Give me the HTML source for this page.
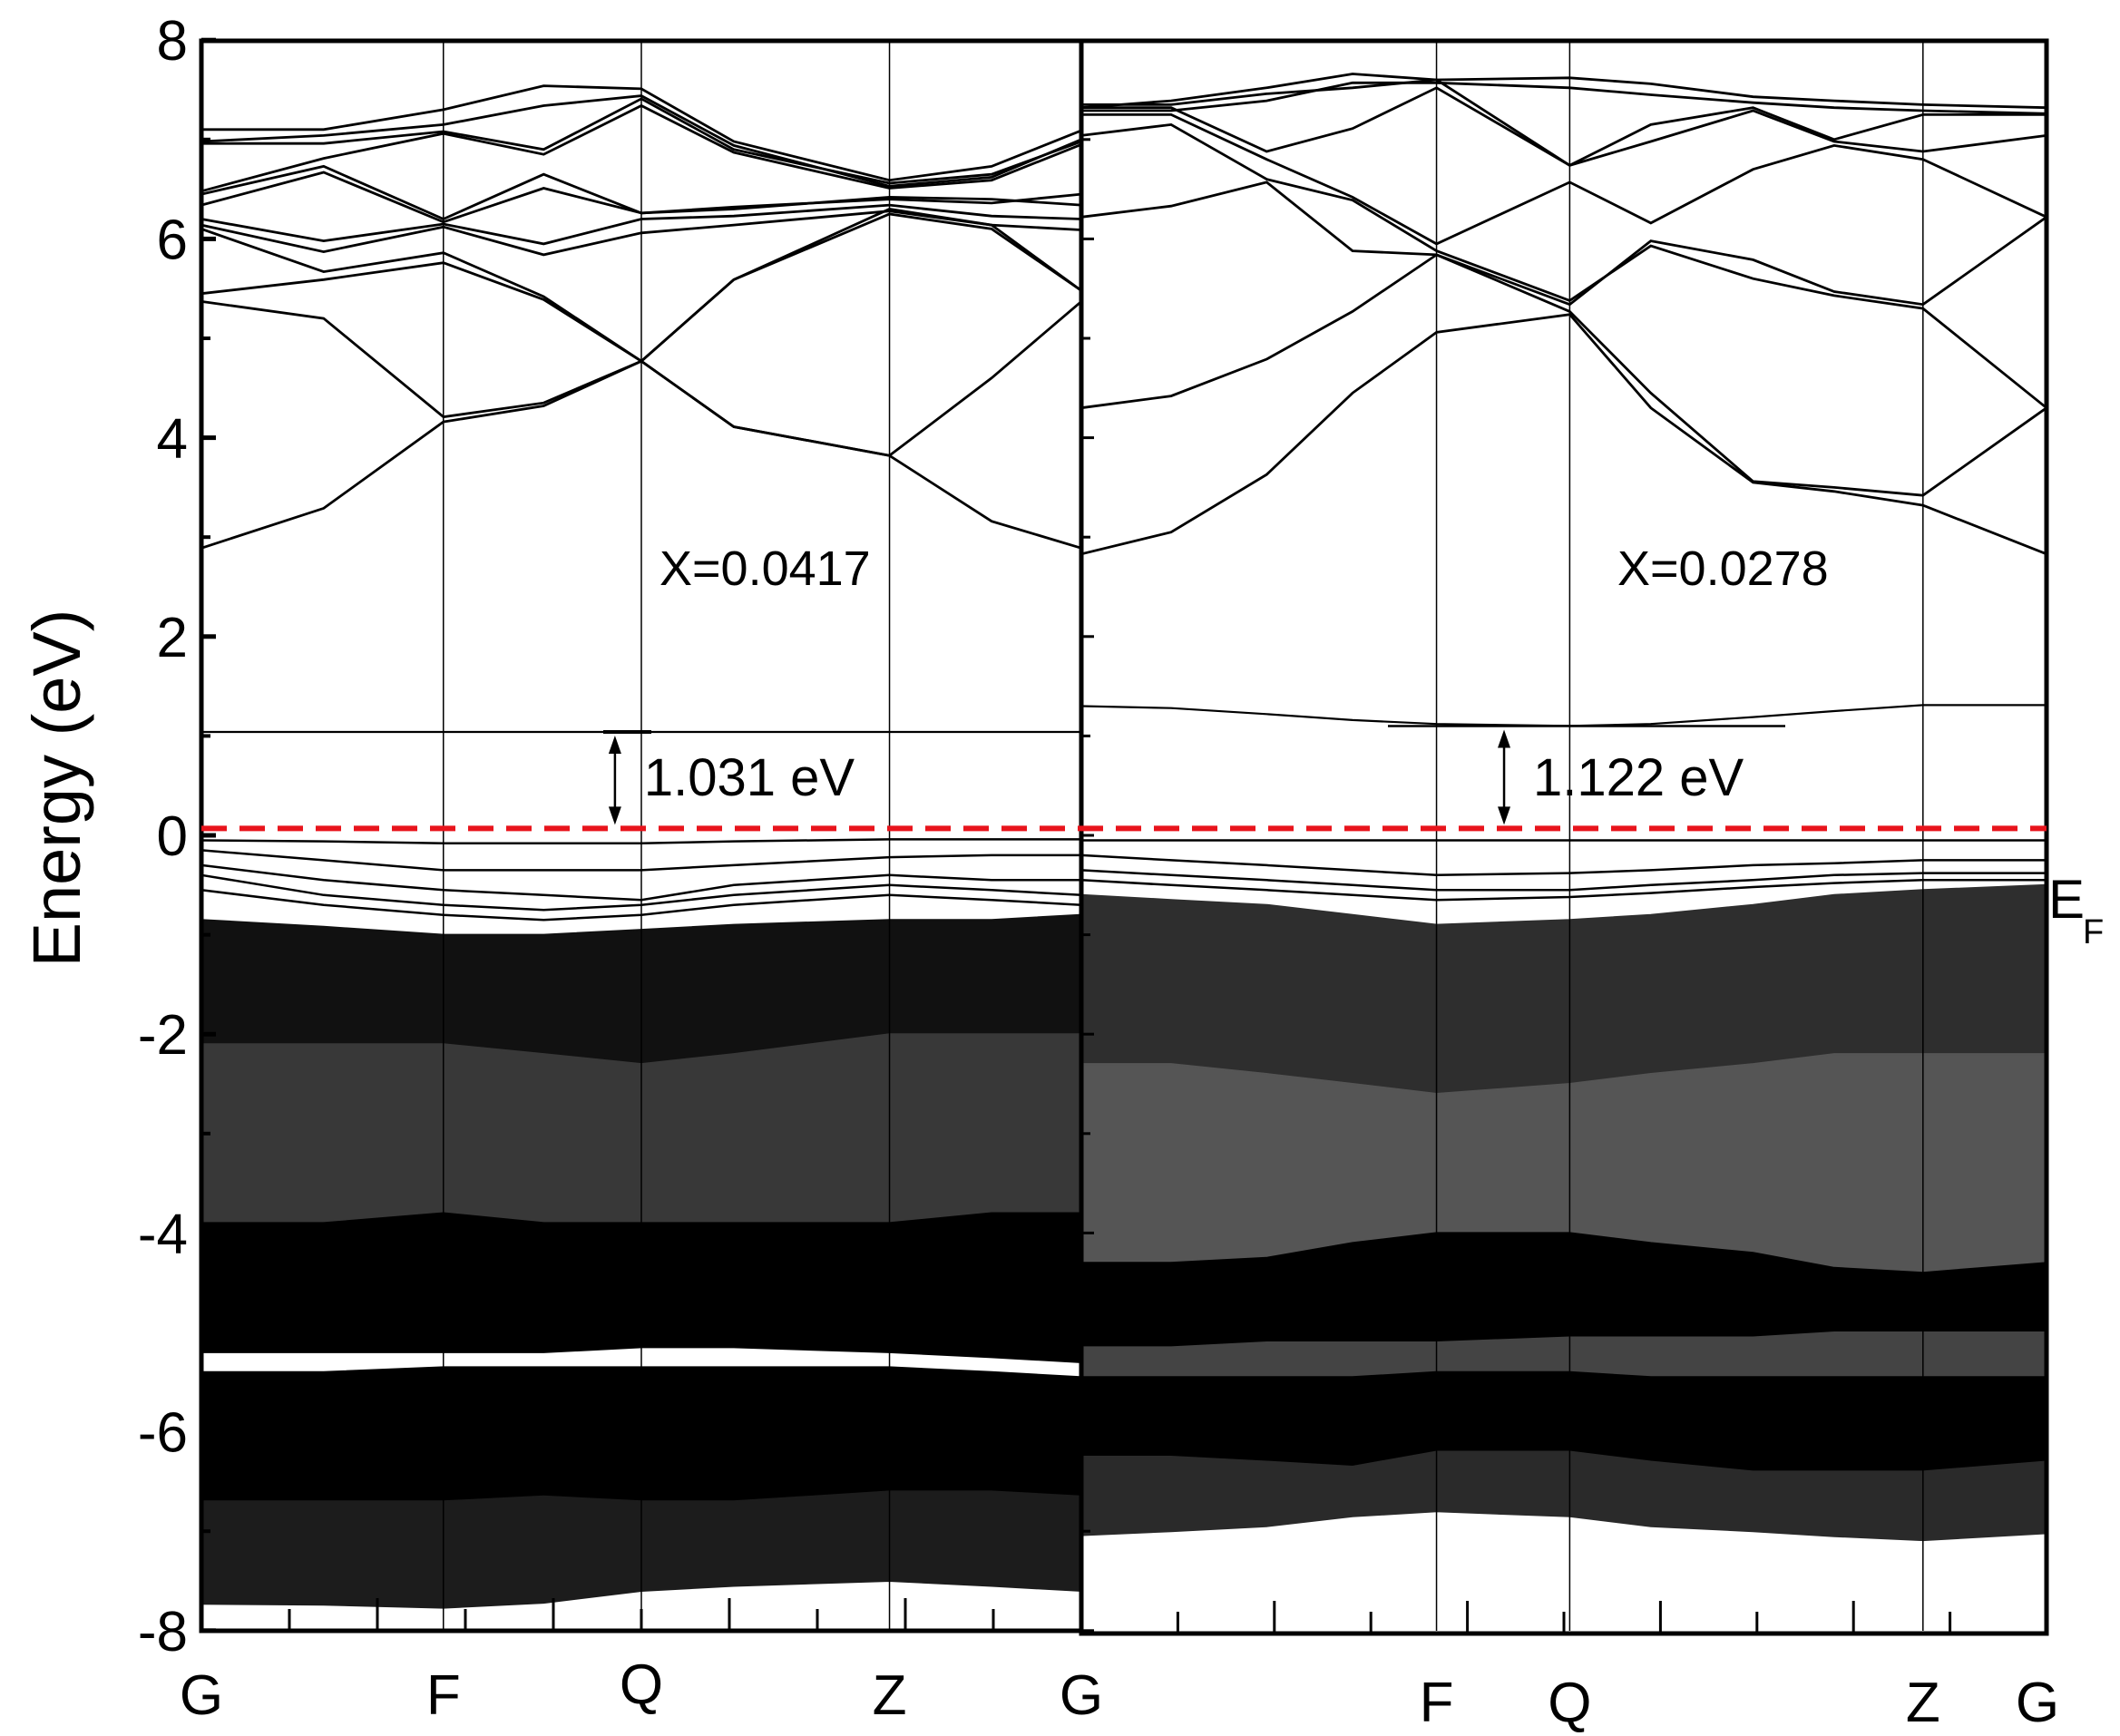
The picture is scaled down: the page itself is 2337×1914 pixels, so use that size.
<!DOCTYPE html>
<html><head><meta charset="utf-8"><style>
html,body{margin:0;padding:0;background:#fff;}
svg{display:block;font-family:"Liberation Sans",Arial,sans-serif;}
</style></head><body>
<svg id="chart" width="2337" height="1914" viewBox="0 0 2337 1914" xmlns="http://www.w3.org/2000/svg">
<rect width="2337" height="1914" fill="#fff"/>
<g id="zones"></g><g id="bands"></g><g id="axes"></g><g id="annot"></g>
</svg>
<script>
// ---- data ----
const leftK = [0,0.139,0.275,0.389,0.5,0.605,0.782,0.898,1];
const rightK = [0,0.093,0.192,0.281,0.368,0.506,0.590,0.696,0.780,0.872,1];
const leftSymK = [0.275,0.5,0.782];
const rightSymK = [0.368,0.506,0.872];
const yTicks = [8,6,4,2,0,-2,-4,-6,-8];
const yTickLabels = ["8","6","4","2","0","-2","-4","-6","-8"];
const leftXLabels = ["G","F","Q","Z","G"];
const leftXLabelK = [0,0.275,0.5,0.782,1];
const rightXLabels = ["F","Q","Z","G"];
const rightXLabelK = [0.368,0.506,0.872,1];
const leftCond = [
 [2.89,3.29,4.16,4.32,4.77,5.59,6.30,6.14,5.48],
 [5.37,5.2,4.21,4.35,4.77,4.11,3.82,3.16,2.89],
 [5.45,5.59,5.76,5.39,4.77,4.11,3.82,4.6,5.37],
 [6.1,5.67,5.86,5.42,4.77,5.59,6.25,6.1,5.48],
 [6.14,5.87,6.12,5.84,6.06,6.14,6.28,6.14,6.09],
 [6.2,5.98,6.15,5.95,6.2,6.23,6.34,6.23,6.2],
 [6.34,6.67,6.17,6.51,6.26,6.3,6.42,6.4,6.34],
 [6.45,6.73,6.2,6.65,6.26,6.32,6.4,6.36,6.45],
 [6.48,6.81,7.06,6.85,7.34,6.87,6.51,6.59,6.95],
 [6.96,6.96,7.08,6.9,7.41,6.9,6.56,6.65,6.98],
 [6.98,7.04,7.15,7.34,7.44,6.94,6.53,6.62,7.0],
 [7.1,7.1,7.3,7.54,7.51,6.98,6.59,6.73,7.09]
];
const leftImp = [1.04,1.04,1.04,1.04,1.04,1.04,1.04,1.04,1.04];
const leftVal = [
 [-0.05,-0.06,-0.08,-0.08,-0.08,-0.06,-0.04,-0.04,-0.04],
 [-0.15,-0.25,-0.35,-0.35,-0.35,-0.3,-0.22,-0.2,-0.2],
 [-0.3,-0.45,-0.55,-0.6,-0.65,-0.5,-0.4,-0.45,-0.45],
 [-0.4,-0.6,-0.7,-0.75,-0.7,-0.6,-0.5,-0.55,-0.6],
 [-0.55,-0.7,-0.8,-0.85,-0.8,-0.7,-0.6,-0.65,-0.7]
];
const leftZoneTop = [
 [-0.85,-0.92,-1.0,-1.0,-0.95,-0.9,-0.85,-0.85,-0.8],
 [-2.1,-2.1,-2.1,-2.2,-2.3,-2.2,-2.0,-2.0,-2.0],
 [-3.9,-3.9,-3.8,-3.9,-3.9,-3.9,-3.9,-3.8,-3.8],
 [-5.4,-5.4,-5.35,-5.35,-5.35,-5.35,-5.35,-5.4,-5.45],
 [-6.7,-6.7,-6.7,-6.65,-6.7,-6.7,-6.6,-6.6,-6.65]
];
const leftZoneBot = [
 [-2.1,-2.1,-2.1,-2.2,-2.3,-2.2,-2.0,-2.0,-2.0],
 [-3.9,-3.9,-3.8,-3.9,-3.9,-3.9,-3.9,-3.8,-3.8],
 [-5.2,-5.2,-5.2,-5.2,-5.15,-5.15,-5.2,-5.25,-5.3],
 [-6.7,-6.7,-6.7,-6.65,-6.7,-6.7,-6.6,-6.6,-6.65],
 [-7.73,-7.74,-7.77,-7.72,-7.6,-7.55,-7.5,-7.55,-7.6]
];
const leftZoneShade = ["#111","#383838","#000","#000","#1c1c1c"];
const rightCond = [
 [2.83,3.05,3.63,4.45,5.06,5.24,4.3,3.55,3.46,3.32,2.83],
 [4.3,4.42,4.79,5.27,5.84,5.27,4.45,3.56,3.5,3.42,4.3],
 [6.22,6.33,6.57,5.88,5.84,5.34,5.98,5.79,5.47,5.34,6.22],
 [7.04,7.15,6.6,6.39,5.88,5.38,5.93,5.6,5.43,5.3,4.3],
 [7.25,7.25,6.8,6.42,5.95,6.57,6.16,6.7,6.94,6.8,6.22],
 [7.32,7.32,6.88,7.11,7.52,6.74,6.98,7.29,6.98,6.88,7.04],
 [7.35,7.35,7.46,7.52,7.6,6.74,7.15,7.32,7.0,7.25,7.25],
 [7.32,7.39,7.52,7.66,7.6,7.62,7.56,7.43,7.39,7.35,7.32],
 [7.29,7.29,7.39,7.57,7.57,7.52,7.45,7.37,7.32,7.29,7.26]
];
const rightImp = [1.3,1.28,1.22,1.16,1.12,1.1,1.12,1.19,1.25,1.31,1.31];
const rightVal = [
 [-0.05,-0.05,-0.05,-0.05,-0.05,-0.05,-0.05,-0.05,-0.05,-0.05,-0.05],
 [-0.2,-0.25,-0.3,-0.35,-0.4,-0.38,-0.35,-0.3,-0.28,-0.25,-0.25],
 [-0.35,-0.4,-0.45,-0.5,-0.55,-0.55,-0.5,-0.45,-0.4,-0.38,-0.38],
 [-0.45,-0.5,-0.55,-0.6,-0.65,-0.62,-0.58,-0.52,-0.48,-0.45,-0.45]
];
const rightZoneTop = [
 [-0.6,-0.65,-0.7,-0.8,-0.9,-0.85,-0.8,-0.7,-0.6,-0.55,-0.5],
 [-2.3,-2.3,-2.4,-2.5,-2.6,-2.5,-2.4,-2.3,-2.2,-2.2,-2.2],
 [-4.3,-4.3,-4.25,-4.1,-4.0,-4.0,-4.1,-4.2,-4.35,-4.4,-4.3],
 [-5.15,-5.15,-5.1,-5.1,-5.1,-5.05,-5.05,-5.05,-5.0,-5.0,-5.0],
 [-5.45,-5.45,-5.45,-5.45,-5.4,-5.4,-5.45,-5.45,-5.45,-5.45,-5.45],
 [-6.25,-6.25,-6.3,-6.35,-6.2,-6.2,-6.3,-6.4,-6.4,-6.4,-6.3]
];
const rightZoneBot = [
 [-2.3,-2.3,-2.4,-2.5,-2.6,-2.5,-2.4,-2.3,-2.2,-2.2,-2.2],
 [-4.3,-4.3,-4.25,-4.1,-4.0,-4.0,-4.1,-4.2,-4.35,-4.4,-4.3],
 [-5.15,-5.15,-5.1,-5.1,-5.1,-5.05,-5.05,-5.05,-5.0,-5.0,-5.0],
 [-5.45,-5.45,-5.45,-5.45,-5.4,-5.4,-5.45,-5.45,-5.45,-5.45,-5.45],
 [-6.25,-6.25,-6.3,-6.35,-6.2,-6.2,-6.3,-6.4,-6.4,-6.4,-6.3],
 [-7.04,-7.0,-6.95,-6.85,-6.8,-6.85,-6.95,-7.0,-7.05,-7.09,-7.02]
];
const rightZoneShade = ["#2e2e2e","#555","#000","#444","#000","#2a2a2a"];
const fermiLevel = 0.07;
const leftGap = {text:"1.031 eV", k:0.47, top:1.04};
const rightGap = {text:"1.122 eV", k:0.438, top:1.1};

// ---- geometry ----
const NS="http://www.w3.org/2000/svg";
const Y0=921, PX=109.6;
const L={x0:222,x1:1192}, R={x0:1192,x1:2256};
const yS=e=>Y0-e*PX;
const xS=(p,k)=>p.x0+(p.x1-p.x0)*k;
function mk(tag,attrs,parent){const el=document.createElementNS(NS,tag);for(const a in attrs)el.setAttribute(a,attrs[a]);parent.appendChild(el);return el;}
const gZ=document.getElementById('zones'),gB=document.getElementById('bands'),gA=document.getElementById('axes'),gN=document.getElementById('annot');
function pathOf(p,ks,es){return ks.map((k,i)=>(i?'L':'M')+xS(p,k).toFixed(1)+','+yS(es[i]).toFixed(1)).join('');}
function drawZones(p,ks,tops,bots,shades,name){
 tops.forEach((t,i)=>{
  const d=pathOf(p,ks,t)+ks.slice().reverse().map((k,j)=>'L'+xS(p,k).toFixed(1)+','+yS(bots[i][ks.length-1-j]).toFixed(1)).join('')+'Z';
  const el=mk('path',{d:d,fill:shades[i],stroke:shades[i],'stroke-width':2},gZ);
  
  
 });
}
function drawLines(p,ks,arr,name,w){
 arr.forEach((es,i)=>{
  const el=mk('path',{d:pathOf(p,ks,es),fill:'none',stroke:'#000','stroke-width':w},gB);
  
  
 });
}
drawZones(L,leftK,leftZoneTop,leftZoneBot,leftZoneShade,'left');
drawZones(R,rightK,rightZoneTop,rightZoneBot,rightZoneShade,'right');
drawLines(L,leftK,leftCond,'left-conduction',2.8);
drawLines(R,rightK,rightCond,'right-conduction',2.8);
drawLines(L,leftK,leftVal,'left-valence',2.5);
drawLines(R,rightK,rightVal,'right-valence',2.5);
drawLines(L,leftK,[leftImp],'left-impurity',2.2);
drawLines(R,rightK,[rightImp],'right-impurity',2.2);
{const el=mk('line',{x1:1530,x2:1968,y1:yS(1.1),y2:yS(1.1),stroke:'#000','stroke-width':2.5},gB);

}

// high symmetry lines
[[L,leftSymK],[R,rightSymK]].forEach(([p,ks],pi)=>ks.forEach((k,i)=>{
 const el=mk('line',{x1:xS(p,k),x2:xS(p,k),y1:45,y2:1798,stroke:'#000','stroke-width':1.5},gA);
 
 
}));
// frames
[[L,1798],[R,1801]].forEach(([p,yb],i)=>{
 const el=mk('rect',{x:p.x0,y:45,width:p.x1-p.x0,height:yb-45,fill:'none',stroke:'#000','stroke-width':5},gA);
 
 
});
// y ticks
yTicks.forEach((v,i)=>{
 const y=yS(v);
 const t=mk('line',{x1:L.x0,x2:L.x0+16,y1:y,y2:y,stroke:'#000','stroke-width':5},gA);
 
 
 const t2=mk('line',{x1:R.x0,x2:R.x0+14,y1:y,y2:y,stroke:'#000','stroke-width':3},gA);
 
 
 const lb=mk('text',{x:207,y:y+22,'font-size':62,'text-anchor':'end',fill:'#000'},gA);
 lb.textContent=yTickLabels[i];
 
 
 if(i<yTicks.length-1){const ym=yS(v-1);
  const m=mk('line',{x1:L.x0,x2:L.x0+10,y1:ym,y2:ym,stroke:'#000','stroke-width':4},gA);
  
  
  const m2=mk('line',{x1:R.x0,x2:R.x0+10,y1:ym,y2:ym,stroke:'#000','stroke-width':3},gA);
  
  }
});
// x minor ticks
for(let i=1;i<10;i++){
 [[L,1798],[R,1801]].forEach(([p,yb])=>{
  const x=xS(p,i/10);const len=i%2?24:36;
  const el=mk('line',{x1:x,x2:x,y1:yb,y2:yb-len,stroke:'#000','stroke-width':3},gA);
  
  
 });
}
// x labels
leftXLabels.forEach((s,i)=>{
 const el=mk('text',{x:xS(L,leftXLabelK[i]),y:s==='Q'?1878:1890,'font-size':62,'text-anchor':'middle'},gA);
 el.textContent=s;
 
 
});
rightXLabels.forEach((s,i)=>{
 const el=mk('text',{x:xS(R,rightXLabelK[i])-(s==='G'?10:0),y:1898,'font-size':62,'text-anchor':'middle'},gA);
 el.textContent=s;
 
 
});
// fermi line
{const el=mk('line',{x1:L.x0,x2:R.x1,y1:yS(fermiLevel),y2:yS(fermiLevel),stroke:'#e8141c','stroke-width':6,'stroke-dasharray':'28 14'},gN);

}
// gap arrows
[[L,leftGap,'left'],[R,rightGap,'right']].forEach(([p,g,n])=>{
 const x=xS(p,g.k),y1=yS(g.top)+4,y2=yS(fermiLevel)-4;
 const ln=mk('line',{x1:x,x2:x,y1:y1+16,y2:y2-16,stroke:'#000','stroke-width':2.5},gN);
 
 
 const h=mk('path',{d:`M${x},${y1}l-7,20h14z M${x},${y2}l-7,-20h14z`,fill:'#000'},gN);
 
 
 const tx=mk('text',{x:x+32,y:877,'font-size':58},gN);
 tx.textContent=g.text;
 
 
});
{const el=mk('line',{x1:665,x2:718,y1:yS(1.04),y2:yS(1.04),stroke:'#000','stroke-width':4},gN);

}
[['X=0.0417',727],['X=0.0278',1783]].forEach(([s,x],i)=>{
 const el=mk('text',{x:x,y:645,'font-size':54},gN);
 el.textContent=s;
 
 
});
{const e=mk('text',{x:2258,y:1012,'font-size':60},gN);
e.textContent='E';


const f=mk('text',{x:2296,y:1040,'font-size':38},gN);
f.textContent='F';

}
{const t=mk('text',{x:0,y:0,'font-size':74,'text-anchor':'middle',transform:'translate(88,869) rotate(-90)'},gA);
t.textContent='Energy (eV)';

}
</script>
</body></html>
